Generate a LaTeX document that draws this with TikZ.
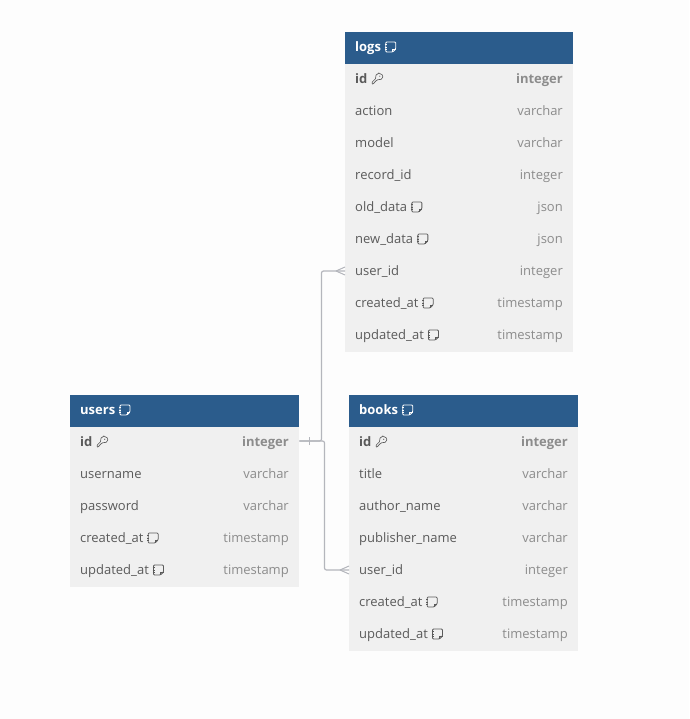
\documentclass[tikz,border=0pt]{standalone}
\usepackage{fontspec}
\setmainfont{Open Sans}
\definecolor{bgc}{HTML}{FDFDFD}
\definecolor{headc}{HTML}{2B5C8C}
\definecolor{bodyc}{HTML}{F0F0F0}
\definecolor{namec}{HTML}{5A5A5A}
\definecolor{typec}{HTML}{8C8C8C}
\definecolor{linec}{HTML}{B4B6BC}
\tikzset{
  head/.style={fill=headc,draw=none,inner sep=0,anchor=north west,minimum height=32pt},
  bodybox/.style={fill=bodyc,draw=none,inner sep=0,anchor=north west},
  titletxt/.style={text=white,font=\fontsize{13}{13}\selectfont\bfseries,inner sep=0,anchor=base west},
  nametxt/.style={text=namec,font=\fontsize{13}{13}\selectfont,inner sep=0,anchor=base west},
  nameb/.style={text=namec,font=\fontsize{13}{13}\selectfont\bfseries,inner sep=0,anchor=base west},
  typetxt/.style={text=typec,font=\fontsize{13}{13}\selectfont,inner sep=0,anchor=base east},
  typeb/.style={text=typec,font=\fontsize{13}{13}\selectfont\bfseries,inner sep=0,anchor=base east},
  conn/.style={draw=linec,line width=1.2pt,rounded corners=2pt},
  tick/.style={draw=linec,line width=1pt},
  notepic/.pic={
    \draw[pic actions,line width=0.8pt,rounded corners=1pt]
      (0.5,-5) -- (10.5,-5) -- (10.5,2) -- (7.5,5) -- (0.5,5) -- cycle;
    \draw[pic actions,line width=0.7pt] (-0.5,-2.5) -- (1.5,-2.5) (-0.5,0) -- (1.5,0) (-0.5,2.5) -- (1.5,2.5) (10.5,2) -- (7.5,2) -- (7.5,5);
  },
  keypic/.pic={
    \draw[pic actions,line width=0.65pt,rounded corners=0.6pt]
      (7.3,-5.5) .. controls (10,-5.5) and (11.5,-3.5) .. (11,-1.8)
      .. controls (10.6,-0.2) and (8.5,1.3) .. (6.4,0.4)
      -- (5.4,1.4) -- (4.2,1.5) -- (4.0,2.8) -- (2.8,3) -- (2.5,4.4) -- (0.5,5.2) -- (0.5,3.2)
      -- (4.2,-0.6) .. controls (3.4,-3) and (5,-5.5) .. (7.3,-5.5) -- cycle;
    \fill[pic actions,draw=none] (8.2,-2.8) circle (0.6);
  }
}
\begin{document}
\begin{tikzpicture}[x=1pt,y=-1pt]
\useasboundingbox (0,0) rectangle (689,719);
\fill[bgc] (0,0) rectangle (689,719);

% logs
\node[bodybox,minimum width=228pt,minimum height=288pt] (logsbody) at (345,64) {};
\node[head,minimum width=228pt] (logshead) at (345,32) {};
\node[titletxt] (logstitle) at (355,51.5) {logs};
\pic[color=white] at ([xshift=4pt,yshift=4.5pt]logstitle.base east) {notepic};
\foreach \nm/\lbl/\ty/\yy in {logsaction/action/varchar/115.5,logsmodel/model/varchar/147.5,logsrecord/record\_id/integer/179.5,logsold/old\_data/json/211.5,logsnew/new\_data/json/243.5,logsuser/user\_id/integer/275.5,logscreated/created\_at/timestamp/307.5,logsupdated/updated\_at/timestamp/339.5}{
  \node[nametxt] (\nm) at (355,\yy) {\lbl};
  \node[typetxt] (\nm-t) at (563,\yy) {\ty};
}
\node[nameb] (logsid) at (355,83.5) {id};
\node[typeb] (logsid-t) at (563,83.5) {integer};
\pic[color=namec] at ([xshift=4pt,yshift=4.5pt]logsid.base east) {keypic};
\foreach \nm in {logsold,logsnew,logscreated,logsupdated}{
  \pic[color=namec] at ([xshift=4pt,yshift=4.5pt]\nm.base east) {notepic};
}

% users
\node[bodybox,minimum width=229pt,minimum height=160pt] (usersbody) at (70,427) {};
\node[head,minimum width=229pt] (usershead) at (70,395) {};
\node[titletxt] (userstitle) at (80,414.5) {users};
\pic[color=white] at ([xshift=4pt,yshift=4.5pt]userstitle.base east) {notepic};
\foreach \nm/\lbl/\ty/\yy in {usersname/username/varchar/478.5,userspass/password/varchar/510.5,userscreated/created\_at/timestamp/542.5,usersupdated/updated\_at/timestamp/574.5}{
  \node[nametxt] (\nm) at (80,\yy) {\lbl};
  \node[typetxt] (\nm-t) at (289,\yy) {\ty};
}
\node[nameb] (usersid) at (80,446.5) {id};
\node[typeb] (usersid-t) at (289,446.5) {integer};
\pic[color=namec] at ([xshift=4pt,yshift=4.5pt]usersid.base east) {keypic};
\foreach \nm in {userscreated,usersupdated}{
  \pic[color=namec] at ([xshift=4pt,yshift=4.5pt]\nm.base east) {notepic};
}

% books
\node[bodybox,minimum width=229pt,minimum height=224pt] (booksbody) at (349,427) {};
\node[head,minimum width=229pt] (bookshead) at (349,395) {};
\node[titletxt] (bookstitle) at (359,414.5) {books};
\pic[color=white] at ([xshift=4pt,yshift=4.5pt]bookstitle.base east) {notepic};
\foreach \nm/\lbl/\ty/\yy in {bookstitlecol/title/varchar/478.5,booksauthor/author\_name/varchar/510.5,bookspub/publisher\_name/varchar/542.5,booksuser/user\_id/integer/574.5,bookscreated/created\_at/timestamp/606.5,booksupdated/updated\_at/timestamp/638.5}{
  \node[nametxt] (\nm) at (359,\yy) {\lbl};
  \node[typetxt] (\nm-t) at (568,\yy) {\ty};
}
\node[nameb] (booksid) at (359,446.5) {id};
\node[typeb] (booksid-t) at (568,446.5) {integer};
\pic[color=namec] at ([xshift=4pt,yshift=4.5pt]booksid.base east) {keypic};
\foreach \nm in {bookscreated,booksupdated}{
  \pic[color=namec] at ([xshift=4pt,yshift=4.5pt]\nm.base east) {notepic};
}

% connector anchors on the table edges
\coordinate (usersidport) at (usersbody.north east |- 0,441);
\coordinate (logsport) at (logsbody.north west |- 0,271);
\coordinate (booksport) at (booksbody.north west |- 0,570);
\coordinate (busup) at (321.5,441);
\coordinate (busdown) at (324.5,441);

\draw[conn] (usersidport) -- (busup) -- (busup |- logsport) -- (logsport);
\draw[conn] (usersidport) -- (busdown) -- (busdown |- booksport) -- (booksport);
% one-side bar
\draw[tick] ([xshift=10pt,yshift=-4pt]usersidport) -- ([xshift=10pt,yshift=4pt]usersidport);
% crow's feet
\draw[tick] ([xshift=-9pt]logsport) -- ([yshift=-4pt]logsport) ([xshift=-9pt]logsport) -- ([yshift=4pt]logsport);
\draw[tick] ([xshift=-9pt]booksport) -- ([yshift=-4pt]booksport) ([xshift=-9pt]booksport) -- ([yshift=4pt]booksport);
\end{tikzpicture}
\end{document}
